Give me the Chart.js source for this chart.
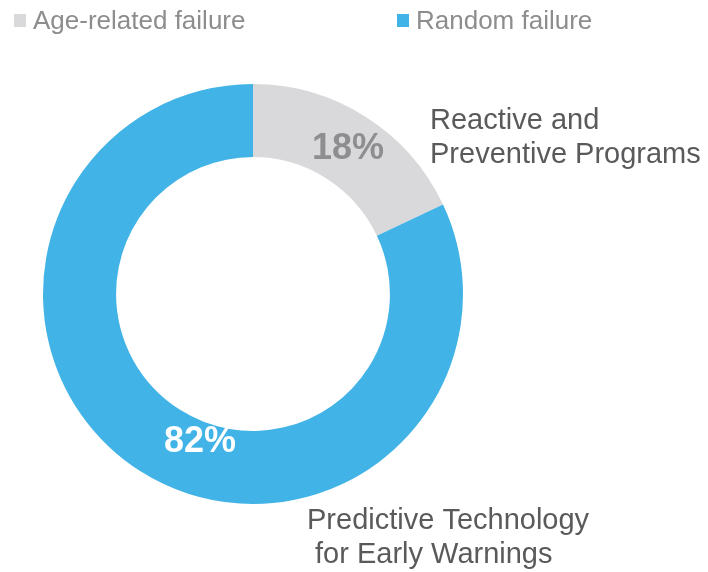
<!DOCTYPE html>
<html>
<head>
<meta charset="utf-8">
<script src="https://cdn.jsdelivr.net/npm/chart.js@4"></script>
<style>
  html, body { margin: 0; padding: 0; background: #fff; }
  #wrap { width: 708px; height: 572px; }
</style>
</head>
<body>
<div id="wrap"><canvas id="donutchart" width="708" height="572"></canvas></div>
<script>
const labels = ["Age-related failure", "Random failure"];
const shares = [18, 82];
const colors = ["#d9d9db", "#41b3e6"];
const pctColors = ["#8e8e90", "#ffffff"];
const notes = [
  ["Reactive and", "Preventive Programs"],
  ["Predictive Technology", " for Early Warnings"]
];

const FONT = "'Liberation Sans', Arial, sans-serif";

const extras = {
  id: "extras",
  afterDraw(chart) {
    const ctx = chart.ctx;
    ctx.save();

    // legend along the top
    const legendX = [14, 397];
    ctx.font = "26px " + FONT;
    ctx.textBaseline = "middle";
    ctx.textAlign = "left";
    labels.forEach((lab, i) => {
      ctx.fillStyle = colors[i];
      ctx.fillRect(legendX[i], 14, 12, 13);
      ctx.fillStyle = "#8d8d8f";
      ctx.fillText(lab, legendX[i] + 19, 22);
    });

    // percentage labels on the arcs
    const meta = chart.getDatasetMeta(0);
    const nudge = [2, 40];
    ctx.font = "bold 36px " + FONT;
    ctx.textAlign = "center";
    meta.data.forEach((arc, i) => {
      const p = arc.tooltipPosition();
      ctx.fillStyle = pctColors[i];
      ctx.fillText(shares[i] + "%", p.x + nudge[i], p.y + 2);
    });

    // side notes
    ctx.font = "29px " + FONT;
    ctx.textAlign = "left";
    ctx.fillStyle = "#5a5a5c";
    const notePos = [[430, 121], [307, 521]];
    notes.forEach((lines, i) => {
      lines.forEach((t, j) => {
        ctx.fillText(t, notePos[i][0], notePos[i][1] + j * 34);
      });
    });
    ctx.restore();
  }
};

new Chart(document.getElementById("donutchart"), {
  type: "doughnut",
  data: {
    labels: labels,
    datasets: [{
      data: shares,
      backgroundColor: colors,
      borderWidth: 0,
      hoverOffset: 0
    }]
  },
  options: {
    responsive: false,
    animation: false,
    cutout: "65.2%",
    layout: { padding: { left: 43, right: 245, top: 84, bottom: 68 } },
    plugins: {
      legend: { display: false },
      tooltip: { enabled: false }
    }
  },
  plugins: [extras]
});
</script>
</body>
</html>
